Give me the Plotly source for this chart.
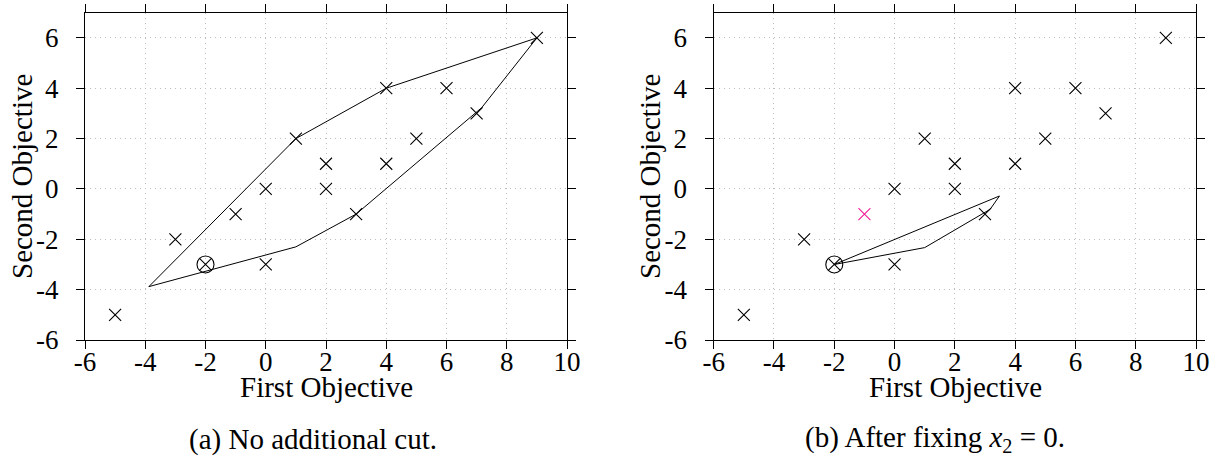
import plotly.graph_objects as go

# ---- data ----
pts_x = [-5, -3, -1, 0, 0, 1, 2, 2, 3, 4, 4, 5, 6, 7, 9]
pts_y = [-5, -2, -1, 0, -3, 2, 1, 0, -1, 4, 1, 2, 4, 3, 6]
incumbent_x = [-2]
incumbent_y = [-3]

# panel (b): points split into black and highlighted
b_black_x = [-5, -3, 0, 0, 1, 2, 2, 3, 4, 4, 5, 6, 7, 9]
b_black_y = [-5, -2, 0, -3, 2, 1, 0, -1, 4, 1, 2, 4, 3, 6]
b_pink_x = [-1]
b_pink_y = [-1]

# outline polygons (closed)
poly_a_x = [-3.88, 1, 4, 9, 7.17, 3, 1, -3.88]
poly_a_y = [-3.88, 2, 4, 6, 3.23, -1, -2.3, -3.88]
poly_b_x = [-2, 3.48, 3.17, 1, -2]
poly_b_y = [-3, -0.28, -0.81, -2.33, -3]

x_ticks = [-6, -4, -2, 0, 2, 4, 6, 8, 10]
x_tick_text = ["-6", "-4", "-2", "0", "2", "4", "6", "8", "10"]
y_ticks = [-6, -4, -2, 0, 2, 4, 6]
y_tick_text = ["-6", "-4", "-2", "0", "2", "4", "6"]

x_title = "First Objective"
y_title = "Second Objective"
caption_a = "(a) No additional cut."
caption_b = "(b) After fixing <i>x</i><sub>2</sub> = 0."

# ---- styling ----
W, H = 1217, 459
FONT = "Liberation Serif"
FS_TICK = 27
FS_TEXT = 29
BLACK = "#000000"
PINK = "#f01e96"
GRID = "#bdbdbd"

def fx(p):  # page px -> paper fraction (x)
    return p / W

def fy(p):  # page px -> paper fraction (y)
    return 1 - p / H

fig = go.Figure()

def add_panel(xa, ya, line_x, line_y, black_x, black_y, extra=None):
    fig.add_trace(go.Scatter(x=line_x, y=line_y, mode="lines",
                             line=dict(color=BLACK, width=1),
                             xaxis=xa, yaxis=ya, showlegend=False, hoverinfo="skip"))
    fig.add_trace(go.Scatter(x=black_x, y=black_y, mode="markers",
                             marker=dict(symbol="x-thin", size=12,
                                         line=dict(color=BLACK, width=1.1)),
                             xaxis=xa, yaxis=ya, showlegend=False))
    if extra is not None:
        ex, ey, col = extra
        fig.add_trace(go.Scatter(x=ex, y=ey, mode="markers",
                                 marker=dict(symbol="x-thin", size=12,
                                             line=dict(color=col, width=1.1)),
                                 xaxis=xa, yaxis=ya, showlegend=False))
    fig.add_trace(go.Scatter(x=incumbent_x, y=incumbent_y, mode="markers",
                             marker=dict(symbol="circle-open", size=17,
                                         color=BLACK, line=dict(color=BLACK, width=1.1)),
                             xaxis=xa, yaxis=ya, showlegend=False))
    fig.add_trace(go.Scatter(x=incumbent_x, y=incumbent_y, mode="markers",
                             marker=dict(symbol="x-thin", size=12,
                                         line=dict(color=BLACK, width=1.1)),
                             xaxis=xa, yaxis=ya, showlegend=False))

add_panel("x", "y", poly_a_x, poly_a_y, pts_x, pts_y)
add_panel("x2", "y2", poly_b_x, poly_b_y, b_black_x, b_black_y,
          extra=(b_pink_x, b_pink_y, PINK))

y_dom = [fy(340), fy(12.7)]
xa_dom = [fx(85), fx(567)]
xb_dom = [fx(713.7), fx(1196)]

common = dict(showgrid=True, gridcolor=GRID, griddash="1px,4px", gridwidth=1,
              zeroline=False, showline=True, linecolor=BLACK, linewidth=1.2,
              mirror="ticks", ticks="outside", ticklen=8, tickwidth=1, tickcolor=BLACK,
              tickfont=dict(family=FONT, size=FS_TICK, color=BLACK), fixedrange=True,
              automargin=False, tickmode="array")
common_x = dict(range=[-6, 10], tickvals=x_ticks, ticktext=x_tick_text,
                ticklabelstandoff=-11, **common)
common_y = dict(range=[-6, 7], tickvals=y_ticks, ticktext=y_tick_text,
                ticklabelstandoff=12, **common)

fig.update_layout(
    template="none",
    width=W, height=H,
    margin=dict(l=0, r=0, t=0, b=0, pad=0),
    paper_bgcolor="white", plot_bgcolor="white",
    font=dict(family=FONT, size=FS_TEXT, color=BLACK),
    xaxis=dict(domain=xa_dom, anchor="y", **common_x),
    yaxis=dict(domain=y_dom, anchor="x", **common_y),
    xaxis2=dict(domain=xb_dom, anchor="y2", **common_x),
    yaxis2=dict(domain=y_dom, anchor="x2", **common_y),
)

def ann(text, xpx, ypx, angle=0):
    fig.add_annotation(text=text, x=fx(xpx), y=fy(ypx), xref="paper", yref="paper",
                       xanchor="center", yanchor="middle", showarrow=False, textangle=angle,
                       font=dict(family=FONT, size=FS_TEXT, color=BLACK))

ann(x_title, 326, 387)
ann(x_title, 955, 387)
ann(y_title, 22, 177, angle=-90)
ann(y_title, 650, 177, angle=-90)
ann(caption_a, 312.5, 439)
ann(caption_b, 935, 439)

fig.write_html(
    "out.html",
    config={"displayModeBar": False, "staticPlot": True},
    post_script="document.body.style.margin='0';document.body.style.overflow='hidden';",
)
